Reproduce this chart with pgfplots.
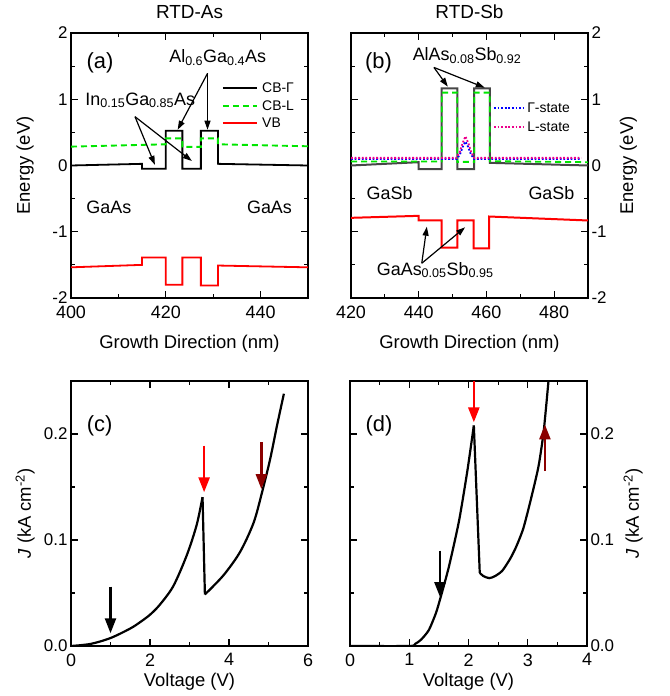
\documentclass[border=0pt]{standalone}
\usepackage{fontspec}
\setmainfont{Liberation Sans}
\usepackage{pgfplots}
\pgfplotsset{compat=1.18}
\usetikzlibrary{arrows.meta}

\definecolor{cbl}{RGB}{0,230,0}
\definecolor{dred}{RGB}{139,0,0}
\definecolor{cbg}{RGB}{70,70,70}

\pgfplotsset{
 base/.style={
  scale only axis, width=237bp, height=265bp,
  axis line style={line width=1.4bp},
  every tick/.style={black, line width=1.1bp},
  major tick length=7bp, minor tick length=4bp,
  tick align=inside,
  /pgf/number format/assume math mode=true,
  xticklabel style={font=\fontsize{18}{18}\selectfont, yshift=-4bp},
  yticklabel style={font=\fontsize{17}{17}\selectfont},
  label style={font=\fontsize{18.5}{20}\selectfont},
  title style={font=\fontsize{19}{20}\selectfont, at={(0.5,1.034)}, anchor=base},
  clip mode=individual,
  scaled ticks=false,
 },
}
\tikzset{
 thinarrow/.style={-{Triangle[length=9bp,width=6bp]}, line width=1.2bp, black},
 bigarrow/.style={-{Triangle[length=15bp,width=11bp]}, line width=2.5bp},
 ann/.style={font=\fontsize{18}{18}\selectfont},
 plab/.style={font=\fontsize{22}{22}\selectfont},
 legtxt/.style={font=\fontsize{14}{14}\selectfont, anchor=west, inner sep=0pt},
}

\begin{document}
\begin{tikzpicture}
\useasboundingbox (0,0) rectangle (670bp,696bp);

% ---------------- (a) ----------------
\begin{axis}[base, at={(71bp,398bp)}, anchor=south west,
 xmin=400,xmax=450,ymin=-2,ymax=2,
 xtick={400,420,440}, minor xtick={410,430,450},
 ytick={-2,-1,0,1,2}, minor ytick={-1.5,-0.5,0.5,1.5},
 title={RTD-As}, xlabel={Growth Direction (nm)}, ylabel={Energy (eV)},
 xlabel style={at={(axis description cs:0.5,-0.192)},anchor=base},
 ylabel style={at={(axis description cs:-0.173,0.5)},anchor=base},
]
\addplot[black, line width=1.8bp] coordinates {(400,0) (415,0.025) (415,-0.05) (420,-0.05) (420,0.525) (423.5,0.525) (423.5,-0.05) (427.4,-0.05) (427.4,0.525) (431,0.525) (431,0.025) (450,0)};
\addplot[cbl, line width=1.9bp, dash pattern=on 6bp off 4bp] coordinates {(400,0.285) (420,0.32) (420,0.41) (423.5,0.41) (423.5,0.28) (427.4,0.28) (427.4,0.41) (431,0.41) (431,0.32) (450,0.29)};
\addplot[red, line width=1.8bp] coordinates {(400,-1.537) (415,-1.50) (415,-1.39) (420,-1.39) (420,-1.80) (423.5,-1.80) (423.5,-1.39) (427.4,-1.39) (427.4,-1.81) (431,-1.81) (431,-1.51) (450,-1.537)};
% legend
\draw[black, line width=1.6bp] (axis description cs:0.641,0.792) -- (axis description cs:0.785,0.792);
\node[legtxt] at (axis description cs:0.806,0.792) {CB-Γ};
\draw[cbl, line width=1.8bp, dash pattern=on 6bp off 4bp] (axis description cs:0.641,0.725) -- (axis description cs:0.785,0.725);
\node[legtxt] at (axis description cs:0.806,0.725) {CB-L};
\draw[red, line width=1.6bp] (axis description cs:0.641,0.660) -- (axis description cs:0.785,0.660);
\node[legtxt] at (axis description cs:0.806,0.660) {VB};
% annotations
\node[plab] at (axis cs:406.1,1.555) {(a)};
\node[ann, anchor=base west] at (axis cs:420.0,1.552) {Al\textsubscript{0.6}Ga\textsubscript{0.4}As};
\node[ann, anchor=base west] at (axis cs:402.3,0.913) {In\textsubscript{0.15}Ga\textsubscript{0.85}As};
\node[ann, anchor=base west] at (axis cs:402.5,-0.722) {GaAs};
\node[ann, anchor=base west] at (axis cs:436.4,-0.722) {GaAs};
\draw[thinarrow] (axis cs:428.8,1.39) -- (axis cs:422.5,0.54);
\draw[thinarrow] (axis cs:428.8,1.39) -- (axis cs:428.8,0.54);
\draw[thinarrow] (axis cs:413.5,0.737) -- (axis cs:417.7,0.01);
\draw[thinarrow] (axis cs:413.5,0.737) -- (axis cs:425.5,0.068);
\end{axis}

% ---------------- (b) ----------------
\begin{axis}[base, at={(351bp,398bp)}, anchor=south west,
 xmin=420,xmax=490,ymin=-2,ymax=2,
 xtick={420,440,460,480}, minor xtick={430,450,470,490},
 ytick={-2,-1,0,1,2}, minor ytick={-1.5,-0.5,0.5,1.5},
 yticklabel pos=right,
 title={RTD-Sb}, xlabel={Growth Direction (nm)}, ylabel={Energy (eV)},
 xlabel style={at={(axis description cs:0.5,-0.192)},anchor=base},
 ylabel style={at={(axis description cs:1.19,0.5)},anchor=base},
]
\addplot[cbg, line width=2bp] coordinates {(420,0) (440,0.05) (440,-0.055) (446.8,-0.055) (446.8,1.165) (451.4,1.165) (451.4,-0.055) (456.4,-0.055) (456.4,1.165) (461,1.165) (461,0.04) (490,0)};
\addplot[cbl, line width=1.8bp, dash pattern=on 6bp off 4bp] coordinates {(420,0.06) (446.8,0.06) (446.8,1.1) (451.4,1.1) (451.4,0.055) (456.4,0.055) (456.4,1.1) (461,1.1) (461,0.065) (490,0.05)};
\addplot[red, line width=2bp] coordinates {(420,-0.79) (440,-0.76) (440,-0.83) (446.8,-0.83) (446.8,-1.24) (451.4,-1.24) (451.4,-0.83) (456.2,-0.83) (456.2,-1.25) (460.8,-1.25) (460.8,-0.77) (490,-0.83)};
\addplot[blue, line width=1.8bp, dash pattern=on 1.8bp off 1.8bp] coordinates {(420,0.1) (451.3,0.1) (452.2,0.17) (453,0.28) (453.8,0.36) (454.6,0.28) (455.4,0.17) (456.3,0.1) (488,0.1)};
\addplot[magenta, line width=1.8bp, dash pattern=on 1.8bp off 1.8bp] coordinates {(420,0.115) (451.2,0.115) (452.1,0.2) (452.9,0.33) (453.8,0.44) (454.7,0.33) (455.5,0.2) (456.4,0.115) (488,0.115)};
% legend
\draw[blue, line width=1.8bp, dash pattern=on 1.8bp off 1.8bp] (axis description cs:0.603,0.717) -- (axis description cs:0.726,0.717);
\node[legtxt] at (axis description cs:0.743,0.717) {Γ-state};
\draw[magenta, line width=1.8bp, dash pattern=on 1.8bp off 1.8bp] (axis description cs:0.603,0.645) -- (axis description cs:0.726,0.645);
\node[legtxt] at (axis description cs:0.743,0.645) {L-state};
% annotations
\node[plab] at (axis cs:428.1,1.555) {(b)};
\node[ann, anchor=base west] at (axis cs:437.2,1.58) {AlAs\textsubscript{0.08}Sb\textsubscript{0.92}};
\node[ann, anchor=base west] at (axis cs:423.6,-0.52) {GaSb};
\node[ann, anchor=base west] at (axis cs:471.4,-0.52) {GaSb};
\node[ann, anchor=base west] at (axis cs:426.6,-1.653) {GaAs\textsubscript{0.05}Sb\textsubscript{0.95}};
\draw[thinarrow] (axis cs:444.5,1.48) -- (axis cs:448.6,1.19);
\draw[thinarrow] (axis cs:444.5,1.48) -- (axis cs:459.5,1.175);
\draw[thinarrow] (axis cs:440.9,-1.476) -- (axis cs:442.4,-0.924);
\draw[thinarrow] (axis cs:440.9,-1.476) -- (axis cs:453.7,-0.933);
\end{axis}

% ---------------- (c) ----------------
\begin{axis}[base, at={(71bp,50bp)}, anchor=south west,
 xmin=0,xmax=6,ymin=0,ymax=0.25,
 xtick={0,2,4,6}, minor xtick={1,3,5},
 ytick={0,0.1,0.2}, minor ytick={0.05,0.15,0.25},
 yticklabel={\pgfmathprintnumber[fixed,fixed zerofill,precision=1]{\tick}},
 xlabel={Voltage (V)}, ylabel={\textit{J} (kA cm\textsuperscript{-2})},
 xlabel style={at={(axis description cs:0.5,-0.154)},anchor=base},
 ylabel style={at={(axis description cs:-0.169,0.5)},anchor=base},
]
\addplot[black, line width=2.2bp, smooth, tension=0.5] coordinates {(0,0) (0.5,0.002) (1.0,0.0075) (1.5,0.0165) (1.75,0.0225) (2.0,0.0295) (2.25,0.039) (2.59,0.0565) (2.93,0.0855) (3.18,0.114) (3.33,0.1404)};
\addplot[black, line width=2.2bp] coordinates {(3.33,0.1404) (3.39,0.0486)};
\addplot[black, line width=2.2bp, smooth, tension=0.5] coordinates {(3.39,0.0486) (3.86,0.0667) (4.28,0.0887) (4.62,0.116) (4.83,0.144) (5.04,0.176) (5.21,0.207) (5.39,0.238)};
\node[plab] at (axis cs:0.727,0.2077) {(c)};
\draw[bigarrow, black] (axis cs:1,0.056) -- (axis cs:1,0.012);
\draw[bigarrow, red] (axis cs:3.37,0.189) -- (axis cs:3.37,0.145);
\draw[bigarrow, dred] (axis cs:4.82,0.192) -- (axis cs:4.82,0.148);
\end{axis}

% ---------------- (d) ----------------
\begin{axis}[base, at={(350bp,50bp)}, anchor=south west,
 xmin=0,xmax=4,ymin=0,ymax=0.25,
 xtick={0,1,2,3,4}, minor xtick={0.5,1.5,2.5,3.5},
 ytick={0,0.1,0.2}, minor ytick={0.05,0.15,0.25},
 yticklabel pos=right,
 yticklabel={\pgfmathprintnumber[fixed,fixed zerofill,precision=1]{\tick}},
 xlabel={Voltage (V)}, ylabel={\textit{J} (kA cm\textsuperscript{-2})},
 xlabel style={at={(axis description cs:0.5,-0.154)},anchor=base},
 ylabel style={at={(axis description cs:1.219,0.5)},anchor=base},
]
\addplot[black, line width=2.2bp, smooth, tension=0.4] coordinates {(0,0) (1.0,0) (1.1,0.002) (1.2,0.006) (1.33,0.015) (1.45,0.031) (1.53,0.046) (1.67,0.075) (1.84,0.118) (1.98,0.165) (2.09,0.208)};
\addplot[black, line width=2.2bp] coordinates {(2.09,0.208) (2.19,0.069)};
\addplot[black, line width=2.2bp, smooth, tension=0.4] coordinates {(2.19,0.069) (2.25,0.066) (2.35,0.064) (2.45,0.066) (2.57,0.071) (2.7,0.082) (2.8,0.093) (2.92,0.11) (3.02,0.131) (3.12,0.154) (3.19,0.172) (3.27,0.203) (3.35,0.25)};
\node[plab] at (axis cs:0.489,0.2077) {(d)};
\draw[bigarrow, black] (axis cs:1.52,0.090) -- (axis cs:1.52,0.046);
\draw[bigarrow, red] (axis cs:2.09,0.25) -- (axis cs:2.09,0.211);
\draw[bigarrow, dred] (axis cs:3.29,0.165) -- (axis cs:3.29,0.209);
\end{axis}
\end{tikzpicture}
\end{document}
